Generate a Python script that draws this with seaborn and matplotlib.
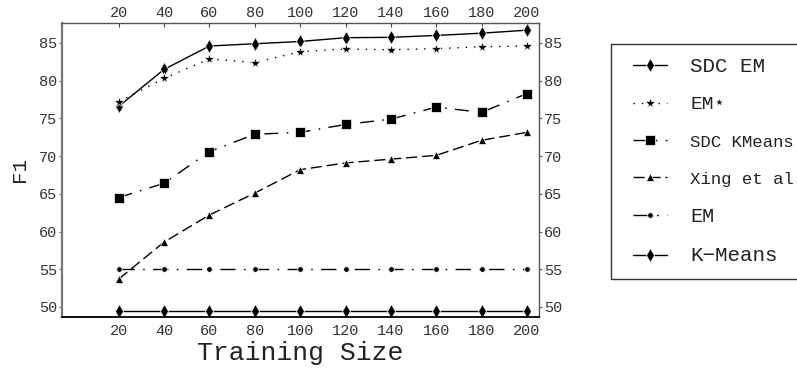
import matplotlib
matplotlib.use("Agg")
import matplotlib.pyplot as plt
from matplotlib.patches import Rectangle
import seaborn as sns
import pandas as pd

# Training sizes and F1 scores for each method
sizes = [20, 40, 60, 80, 100, 120, 140, 160, 180, 200]
sdc_em = [76.6, 81.5, 84.6, 84.9, 85.2, 85.7, 85.75, 86.0, 86.3, 86.7]
em_star = [77.2, 80.3, 82.9, 82.4, 83.85, 84.2, 84.1, 84.25, 84.5, 84.6]
sdc_kmeans = [64.5, 66.4, 70.6, 72.9, 73.15, 74.2, 74.9, 76.5, 75.8, 78.3]
xing = [53.7, 58.6, 62.2, 65.1, 68.2, 69.1, 69.6, 70.1, 72.1, 73.15]
em = [55.0, 55.0, 55.0, 55.0, 55.0, 55.0, 55.0, 55.0, 55.0, 55.0]
kmeans = [49.5, 49.5, 49.5, 49.5, 49.5, 49.5, 49.5, 49.5, 49.5, 49.5]

labels = ["SDC EM", "EM\u22c6", "SDC KMeans", "Xing et al", "EM", "K\u2212Means"]
series = [sdc_em, em_star, sdc_kmeans, xing, em, kmeans]

x_ticks = [20, 40, 60, 80, 100, 120, 140, 160, 180, 200]
y_ticks = [50, 55, 60, 65, 70, 75, 80, 85]

styles = [
    dict(linestyle="-", marker="d", markersize=7),
    dict(linestyle=(0, (1.0, 5.0)), marker="*", markersize=8),
    dict(linestyle=(0, (10, 6, 1.2, 6)), marker="s", markersize=6.5),
    dict(linestyle=(0, (8, 3.5)), marker="^", markersize=5.5),
    dict(linestyle=(0, (11, 6, 1.2, 6)), marker="o", markersize=4),
    dict(linestyle="-", marker="d", markersize=7),
]
legend_sizes = [15, 14, 12.5, 12.5, 14.5, 15]

sns.set_style("white")
plt.rcParams["font.family"] = ["Liberation Mono", "DejaVu Sans Mono", "DejaVu Sans"]

fig = plt.figure(figsize=(7.97, 3.69), dpi=100)
ax = fig.add_axes([62 / 797, 1 - 317 / 369, (539 - 62) / 797, (317 - 23) / 369])

for lab, vals, st in zip(labels, series, styles):
    df = pd.DataFrame({"size": sizes, "f1": vals})
    sns.lineplot(data=df, x="size", y="f1", ax=ax, color="black", linewidth=1.0,
                 markeredgewidth=0.5, label=lab, **st)

ax.set_xlim(-5, 205.3)
ax.set_ylim(48.67, 87.65)
ax.set_xticks(x_ticks)
ax.set_yticks(y_ticks)
tick_font = dict(labelsize=11, labelcolor="#333333")
ax.tick_params(axis="x", direction="in", length=3, width=0.8, top=False, bottom=True,
               color="#444444", pad=5, **tick_font)
ax.tick_params(axis="y", direction="out", length=2, width=0.8, right=False, left=True,
               color="#666666", pad=1.5, **tick_font)

# duplicate scales along the top and right edges
top = ax.secondary_xaxis("top")
top.set_xticks(x_ticks)
top.tick_params(direction="in", length=3, width=0.8, color="#444444", pad=2, **tick_font)
right = ax.secondary_yaxis("right")
right.set_yticks(y_ticks)
right.tick_params(direction="out", length=2, width=0.8, color="#666666", pad=1.5, **tick_font)
for sp in top.spines.values():
    sp.set_visible(False)
for sp in right.spines.values():
    sp.set_visible(False)

ax.spines["left"].set_color("#777777")
ax.spines["left"].set_linewidth(1.6)
ax.spines["bottom"].set_color("black")
ax.spines["bottom"].set_linewidth(1.3)
ax.spines["top"].set_color("#555555")
ax.spines["top"].set_linewidth(1.0)
ax.spines["right"].set_color("#555555")
ax.spines["right"].set_linewidth(1.0)

ax.set_xlabel("Training Size", fontsize=19, color="#222222", labelpad=2)
ax.set_ylabel("F1", fontsize=15, color="#222222", labelpad=7)

handles, labs = ax.get_legend_handles_labels()
ax.get_legend().remove()
leg = fig.legend(handles, labs, loc="upper left",
                 bbox_to_anchor=(633 / 797, 1 - 56.5 / 369),
                 fontsize=14, frameon=False,
                 borderpad=0, labelspacing=1.04, handlelength=1.75,
                 handletextpad=1.2, borderaxespad=0, numpoints=1)
for t, fs in zip(leg.get_texts(), legend_sizes):
    t.set_fontsize(fs)
    t.set_color("#222222")

# legend frame
fig.patches.append(Rectangle((611 / 797, 1 - 279 / 369), 230 / 797, 235 / 369,
                             transform=fig.transFigure, fill=False,
                             edgecolor="#333333", linewidth=1.0))

fig.savefig("out.png", dpi=100)
